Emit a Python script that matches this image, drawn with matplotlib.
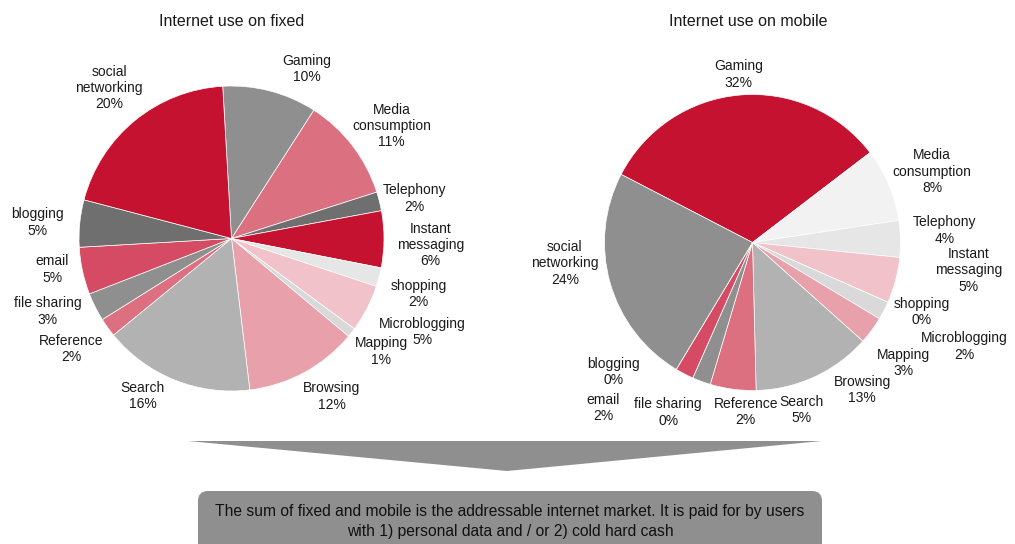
import matplotlib
matplotlib.use("Agg")
import matplotlib.pyplot as plt
from matplotlib.patches import FancyBboxPatch, Polygon

plt.rcParams["font.family"] = ["Liberation Sans", "DejaVu Sans"]

# ---- data -------------------------------------------------------------
categories = ["Gaming", "Media\nconsumption", "Telephony", "Instant\nmessaging",
              "shopping", "Microblogging", "Mapping", "Browsing", "Search",
              "Reference", "file sharing", "email", "blogging", "social\nnetworking"]

fixed_share = [10, 11, 2, 6, 2, 5, 1, 12, 16, 2, 3, 5, 5, 20]
mobile_share = [32, 8, 4, 5, 0, 2, 3, 13, 5, 2, 0, 2, 0, 24]

titles = ["Internet use on fixed", "Internet use on mobile"]
footnote = ("The sum of fixed and mobile is the addressable internet market. "
            "It is paid for by users\nwith 1) personal data and / or 2) cold hard cash")

# ---- styling ----------------------------------------------------------
RED = "#c41230"
fixed_colors = ["#8f8f8f", "#db7080", "#6f6f6f", RED, "#e6e6e6", "#f1c2ca",
                "#d9d9d9", "#e8a0ab", "#b2b2b2", "#dc7080", "#8f8f8f",
                "#d44b63", "#6f6f6f", RED]
mobile_colors = [RED, "#f2f2f2", "#e6e6e6", "#f1c2ca", "#d9d9d9", "#d9d9d9",
                 "#e8a0ab", "#b2b2b2", "#dc7080", "#8f8f8f", "#8f8f8f",
                 "#d44b63", "#8f8f8f", "#8f8f8f"]

# label anchor points, in units of pie radius from the centre
fixed_label_pos = [(0.493, 1.111), (1.050, 0.738), (1.197, 0.261), (1.304, -0.043),
                   (1.225, -0.364), (1.251, -0.613), (0.980, -0.740), (0.659, -1.036),
                   (-0.582, -1.031), (-1.052, -0.723), (-1.205, -0.479),
                   (-1.177, -0.203), (-1.271, 0.104), (-0.803, 0.987)]
mobile_label_pos = [(-0.096, 1.136), (1.213, 0.478), (1.296, 0.080), (1.458, -0.188),
                    (1.143, -0.468), (1.429, -0.703), (1.022, -0.816), (0.742, -0.997),
                    (0.332, -1.132), (-0.046, -1.145), (-0.569, -1.150),
                    (-1.008, -1.118), (-0.941, -0.875), (-1.267, -0.141)]

W, H = 1015, 544
LINE_PITCH = 16.4          # px between label lines
fig = plt.figure(figsize=(W / 100, H / 100), dpi=100)


def pie_axes(cx, cy, r):
    """Square axes (pixel geometry) holding a unit-radius pie centred at cx, cy."""
    ax = fig.add_axes([(cx - r) / W, (H - cy - r) / H, 2 * r / W, 2 * r / H])
    ax.set_xlim(-1, 1)
    ax.set_ylim(-1, 1)
    ax.axis("off")
    return ax


def draw_pie(ax, r_px, values, colors, start, label_pos):
    ax.pie(values, colors=colors, startangle=start, counterclock=False,
           radius=1.0, center=(0, 0), frame=False,
           wedgeprops=dict(edgecolor="white", linewidth=0.5))
    ax.set_xlim(-1, 1)
    ax.set_ylim(-1, 1)
    step = LINE_PITCH / r_px
    for name, v, (lx, ly) in zip(categories, values, label_pos):
        lines = name.split("\n") + [f"{v}%"]
        n = len(lines)
        for i, line in enumerate(lines):
            ax.text(lx, ly - (i - (n - 1) / 2) * step, line, ha="center",
                    va="center", fontsize=10, color="#1a1a1a", clip_on=False)


ax_fixed = pie_axes(231.5, 238.5, 152.5)
draw_pie(ax_fixed, 152.5, fixed_share, fixed_colors, 93.3, fixed_label_pos)

ax_mobile = pie_axes(752.5, 242.5, 148)
draw_pie(ax_mobile, 148, mobile_share, mobile_colors, 152.6, mobile_label_pos)

fig.text(232 / W, 1 - 21 / H, titles[0], ha="center", va="center",
         fontsize=11.5, color="#1a1a1a")
fig.text(748.3 / W, 1 - 21 / H, titles[1], ha="center", va="center",
         fontsize=11.5, color="#1a1a1a")

# ---- funnel arrow and summary box (pixel coordinates) -----------------
ov = fig.add_axes([0, 0, 1, 1], zorder=-1)
ov.set_xlim(0, W)
ov.set_ylim(H, 0)
ov.axis("off")

GREY = "#8f8f8f"
ov.add_patch(Polygon([(188, 441), (822, 441), (507, 471)], closed=True,
                     facecolor=GREY, edgecolor="none"))
ov.add_patch(FancyBboxPatch((198, 491), 624, 80,
                            boxstyle="round,pad=0,rounding_size=10",
                            facecolor=GREY, edgecolor="none"))
ov.text(510, 521.5, footnote, ha="center", va="center", fontsize=11.25,
        color="#111111", linespacing=1.38)

fig.savefig("out.png", dpi=100)
